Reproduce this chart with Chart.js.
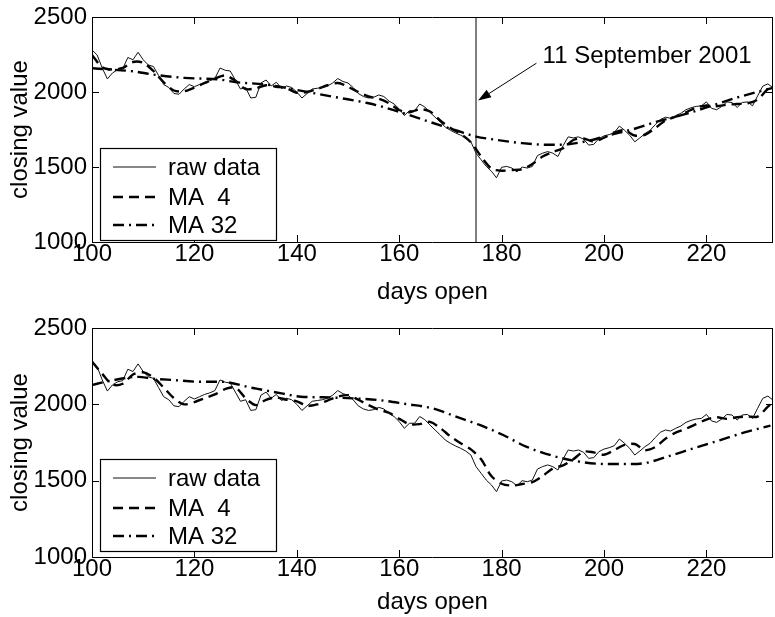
<!DOCTYPE html>
<html>
<head>
<meta charset="utf-8">
<script src="https://cdn.jsdelivr.net/npm/chart.js@4.4.1/dist/chart.umd.min.js"></script>
<style>
  body { margin: 0; background: #fff; width: 775px; height: 617px; position: relative; overflow: hidden; }
  .box { position: absolute; left: 0; width: 775px; }
  #top-box { top: 0; height: 310px; }
  #bot-box { top: 300px; height: 317px; }
</style>
</head>
<body>
<div class="box" id="top-box"><canvas id="top-chart"></canvas></div>
<div class="box" id="bot-box"><canvas id="bot-chart"></canvas></div>
<script>
// Data
const firstDay = 100;
const rawClose = [
  2280, 2247, 2160, 2087, 2127, 2148, 2155, 2230, 2215, 2265,
  2215, 2180, 2170, 2110, 2050, 2030, 1990, 1985, 2020, 2050,
  2035, 2050, 2065, 2075, 2090, 2160, 2145, 2140, 2080, 2020,
  2030, 1960, 1965, 2060, 2080, 2040, 2065, 2025, 2040, 2030,
  2000, 1960, 1990, 2020, 2025, 2030, 2040, 2060, 2090, 2070,
  2060, 2030, 1990, 1970, 1960, 1965, 1980, 1970, 1940, 1920,
  1887, 1843, 1876, 1876, 1920, 1900, 1865, 1832, 1800, 1766,
  1745, 1727, 1712, 1694, 1668, 1592, 1548, 1504, 1472, 1428,
  1498, 1504, 1493, 1467, 1500, 1493, 1504, 1576, 1592, 1603,
  1592, 1570, 1642, 1701, 1694, 1701, 1686, 1646, 1651, 1690,
  1707, 1716, 1729, 1773, 1745, 1712, 1668, 1694, 1723, 1745,
  1782, 1817, 1832, 1825, 1843, 1858, 1882, 1895, 1904, 1908,
  1934, 1891, 1882, 1904, 1934, 1930, 1897, 1930, 1934, 1908,
  1974, 2039, 2054, 2028
];

const ma4Days = [
  100, 102, 104, 106, 108, 110, 112, 114, 116, 118, 120, 122, 124, 126, 128, 130,
  132, 134, 136, 138, 140, 142, 144, 146, 148, 150, 152, 154, 156, 158, 160, 162,
  164, 166, 168, 170, 172, 174, 176, 178, 180, 182, 184, 186, 188, 190, 192, 194,
  196, 198, 200, 202, 204, 206, 208, 210, 212, 214, 216, 218, 220, 222, 224, 226,
  228, 230, 232, 233
];
// centred MA 4 (top panel)
const ma4Top = [
  2247, 2165, 2150, 2160, 2200, 2195, 2140, 2065, 2010, 2005, 2030, 2060, 2090, 2110, 2075, 2020,
  2025, 2045, 2035, 2025, 1995, 2000, 2020, 2045, 2060, 2035, 2000, 1970, 1955, 1925, 1880, 1865,
  1885, 1870, 1810, 1760, 1720, 1665, 1570, 1490, 1475, 1480, 1485, 1520, 1570, 1600, 1625, 1680,
  1690, 1670, 1695, 1730, 1745, 1710, 1715, 1760, 1810, 1835, 1865, 1895, 1910, 1905, 1915, 1920,
  1925, 1950, 2020, 2030
];
// trailing MA 4 (bottom panel)
const ma4Bot = [
  2280, 2200, 2130, 2135, 2195, 2210, 2175, 2110, 2040, 2000, 2015, 2040, 2065, 2100, 2110, 2040,
  1995, 2030, 2045, 2030, 2020, 1990, 2000, 2025, 2050, 2060, 2030, 1995, 1965, 1945, 1905, 1870,
  1870, 1885, 1845, 1790, 1745, 1705, 1640, 1530, 1480, 1468, 1478, 1490, 1530, 1580, 1600, 1640,
  1690, 1685, 1670, 1700, 1735, 1740, 1700, 1720, 1775, 1815, 1840, 1870, 1900, 1915, 1905, 1915,
  1920, 1920, 1985, 2010
];

// centred MA 32 (top panel)
const ma32TopDays = [100, 102, 108, 112, 118, 125, 128, 134, 140, 148, 154, 156, 160, 166, 171, 175, 179, 184, 189, 193, 197, 201, 206, 210, 216, 221, 226, 233];
const ma32Top = [2159, 2153, 2138, 2116, 2094, 2083, 2066, 2050, 2013, 1963, 1925, 1908, 1868, 1800, 1745, 1703, 1681, 1659, 1648, 1652, 1675, 1712, 1755, 1799, 1854, 1908, 1963, 2028];
// trailing MA 32 (bottom panel)
const ma32BotDays = [100, 103, 109, 112, 116, 121, 125, 131.7, 137, 140.8, 145, 151, 156, 161.3, 166.5, 171.1, 175.7, 180.3, 184.8, 190.1, 195.3, 200.5, 205.8, 208.4, 212.3, 217.5, 222.7, 228, 232.5];
const ma32Bot = [2127, 2150, 2180, 2168, 2159, 2148, 2148, 2105, 2072, 2050, 2046, 2039, 2028, 2002, 1974, 1919, 1865, 1799, 1723, 1662, 1624, 1609, 1609, 1618, 1657, 1712, 1766, 1821, 1860];

const xMin = 100, xMax = 233, yMin = 1000, yMax = 2500;
const legendLabels = ['raw data', 'MA  4', 'MA 32'];

// annotation (top panel only)
const septDay = 175;
const septText = '11 September 2001';
const arrowTip = { x: 175.4, y: 1943 };
const arrowTail = { x: 186.8, y: 2192 };
const septTextPos = { x: 188, y: 2238 };

const FONT = '"Liberation Sans", Arial, Helvetica, sans-serif';
Chart.defaults.font.family = FONT;
Chart.defaults.color = '#000';

const pts = (xs, ys) => ys.map((v, i) => ({ x: xs[i], y: v }));
const rawPts = rawClose.map((v, i) => ({ x: firstDay + i, y: v }));

// box + inward ticks, MATLAB style
const framePlugin = {
  id: 'frame',
  afterDatasetsDraw(chart) {
    const { ctx, chartArea: a, scales: { x, y } } = chart;
    ctx.save();
    ctx.strokeStyle = '#000';
    ctx.lineWidth = 1;
    ctx.beginPath();
    ctx.rect(Math.round(a.left) + 0.5, Math.round(a.top) + 0.5, Math.round(a.width) - 1, Math.round(a.height));
    const tl = 7;
    x.ticks.forEach((t) => {
      const px = Math.round(x.getPixelForValue(t.value)) + 0.5;
      ctx.moveTo(px, a.bottom); ctx.lineTo(px, a.bottom - tl);
      ctx.moveTo(px, a.top); ctx.lineTo(px, a.top + tl);
    });
    y.ticks.forEach((t) => {
      const py = Math.round(y.getPixelForValue(t.value)) + 0.5;
      ctx.moveTo(a.left, py); ctx.lineTo(a.left + tl, py);
      ctx.moveTo(a.right, py); ctx.lineTo(a.right - tl, py);
    });
    ctx.stroke();
    ctx.restore();
  },
  afterDraw(chart) {
    // legend box, lower left inside the axes
    const { ctx, chartArea: a } = chart;
    const bx = a.left + 8, by = a.top + 131, bw = 176, bh = 92;
    const rows = [19, 49, 77];
    ctx.save();
    ctx.fillStyle = '#fff';
    ctx.fillRect(bx, by, bw, bh);
    ctx.strokeStyle = '#000';
    ctx.lineWidth = 1.2;
    ctx.strokeRect(bx + 0.5, by + 0.5, bw, bh);
    chart.data.datasets.forEach((ds, i) => {
      const ry = by + rows[i];
      ctx.strokeStyle = ds.borderColor;
      ctx.lineWidth = ds.borderWidth;
      ctx.setLineDash(ds.borderDash || []);
      ctx.beginPath();
      ctx.moveTo(bx + 13, ry);
      ctx.lineTo(bx + 56, ry);
      ctx.stroke();
      ctx.setLineDash([]);
      ctx.fillStyle = '#000';
      ctx.font = '24px ' + FONT;
      ctx.textBaseline = 'middle';
      ctx.fillText(ds.label, bx + 68, ry + 1);
    });
    ctx.restore();
  }
};

const septPlugin = {
  id: 'sept',
  beforeDatasetsDraw(chart) {
    const { ctx, chartArea: a, scales: { x } } = chart;
    const px = x.getPixelForValue(septDay);
    ctx.save();
    ctx.strokeStyle = '#555';
    ctx.lineWidth = 1.5;
    ctx.beginPath();
    ctx.moveTo(px, a.top);
    ctx.lineTo(px, a.bottom);
    ctx.stroke();
    ctx.restore();
  },
  afterDraw(chart) {
    const { ctx, scales: { x, y } } = chart;
    const tx = x.getPixelForValue(arrowTip.x), ty = y.getPixelForValue(arrowTip.y);
    const sx = x.getPixelForValue(arrowTail.x), sy = y.getPixelForValue(arrowTail.y);
    const ang = Math.atan2(ty - sy, tx - sx);
    const hl = 13, hw = 4.5;
    ctx.save();
    ctx.strokeStyle = '#000';
    ctx.fillStyle = '#000';
    ctx.lineWidth = 1;
    ctx.beginPath();
    ctx.moveTo(sx, sy);
    ctx.lineTo(tx - Math.cos(ang) * hl, ty - Math.sin(ang) * hl);
    ctx.stroke();
    ctx.beginPath();
    ctx.moveTo(tx, ty);
    ctx.lineTo(tx - Math.cos(ang) * hl - Math.sin(ang) * hw, ty - Math.sin(ang) * hl + Math.cos(ang) * hw);
    ctx.lineTo(tx - Math.cos(ang) * hl + Math.sin(ang) * hw, ty - Math.sin(ang) * hl - Math.cos(ang) * hw);
    ctx.closePath();
    ctx.fill();
    ctx.font = '24px ' + FONT;
    ctx.textBaseline = 'middle';
    ctx.fillText(septText, x.getPixelForValue(septTextPos.x), y.getPixelForValue(septTextPos.y));
    ctx.restore();
  }
};

function makeChart(id, ma4, ma32Days, ma32, opt) {
  return new Chart(document.getElementById(id), {
    type: 'line',
    data: {
      datasets: [
        { label: legendLabels[0], data: rawPts, borderColor: '#111', borderWidth: 1, pointRadius: 0, tension: 0 },
        { label: legendLabels[1], data: pts(ma4Days, ma4), borderColor: '#000', borderWidth: 2.4, borderDash: [10, 6], pointRadius: 0, tension: 0.3 },
        { label: legendLabels[2], data: pts(ma32Days, ma32), borderColor: '#000', borderWidth: 2.4, borderDash: [11, 5, 2, 5], pointRadius: 0, cubicInterpolationMode: 'monotone' }
      ]
    },
    options: {
      responsive: true,
      maintainAspectRatio: false,
      animation: false,
      layout: { padding: { top: opt.padTop, right: 2, left: 0, bottom: 0 } },
      plugins: { legend: { display: false }, tooltip: { enabled: false } },
      scales: {
        x: {
          type: 'linear', min: xMin, max: xMax,
          grid: { display: false, drawTicks: false },
          border: { display: false },
          ticks: { stepSize: 20, padding: opt.tickPad, font: { size: 24, lineHeight: 1 }, maxRotation: 0, callback: (v) => String(v) },
          afterBuildTicks: (s) => { s.ticks = s.ticks.filter((t) => t.value % 20 === 0); },
          afterFit: (s) => { s.height = opt.xHeight; },
          title: { display: true, text: 'days open', font: { size: 24, lineHeight: 1 }, padding: { top: 0, bottom: opt.titlePad } }
        },
        y: {
          min: yMin, max: yMax,
          grid: { display: false, drawTicks: false },
          border: { display: false },
          ticks: { stepSize: 500, padding: 5, font: { size: 24, lineHeight: 1 }, callback: (v) => String(v) },
          afterFit: (s) => { s.width = 92; },
          title: { display: true, text: 'closing value', font: { size: 24, lineHeight: 1 }, padding: { top: 8, bottom: 0 } }
        }
      }
    },
    plugins: opt.extra ? [framePlugin, opt.extra] : [framePlugin]
  });
}

makeChart('top-chart', ma4Top, ma32TopDays, ma32Top, { padTop: 13, xHeight: 68, tickPad: 0, titlePad: 6, extra: septPlugin });
makeChart('bot-chart', ma4Bot, ma32BotDays, ma32Bot, { padTop: 28, xHeight: 60, tickPad: 0, titlePad: 3 });
</script>
</body>
</html>
